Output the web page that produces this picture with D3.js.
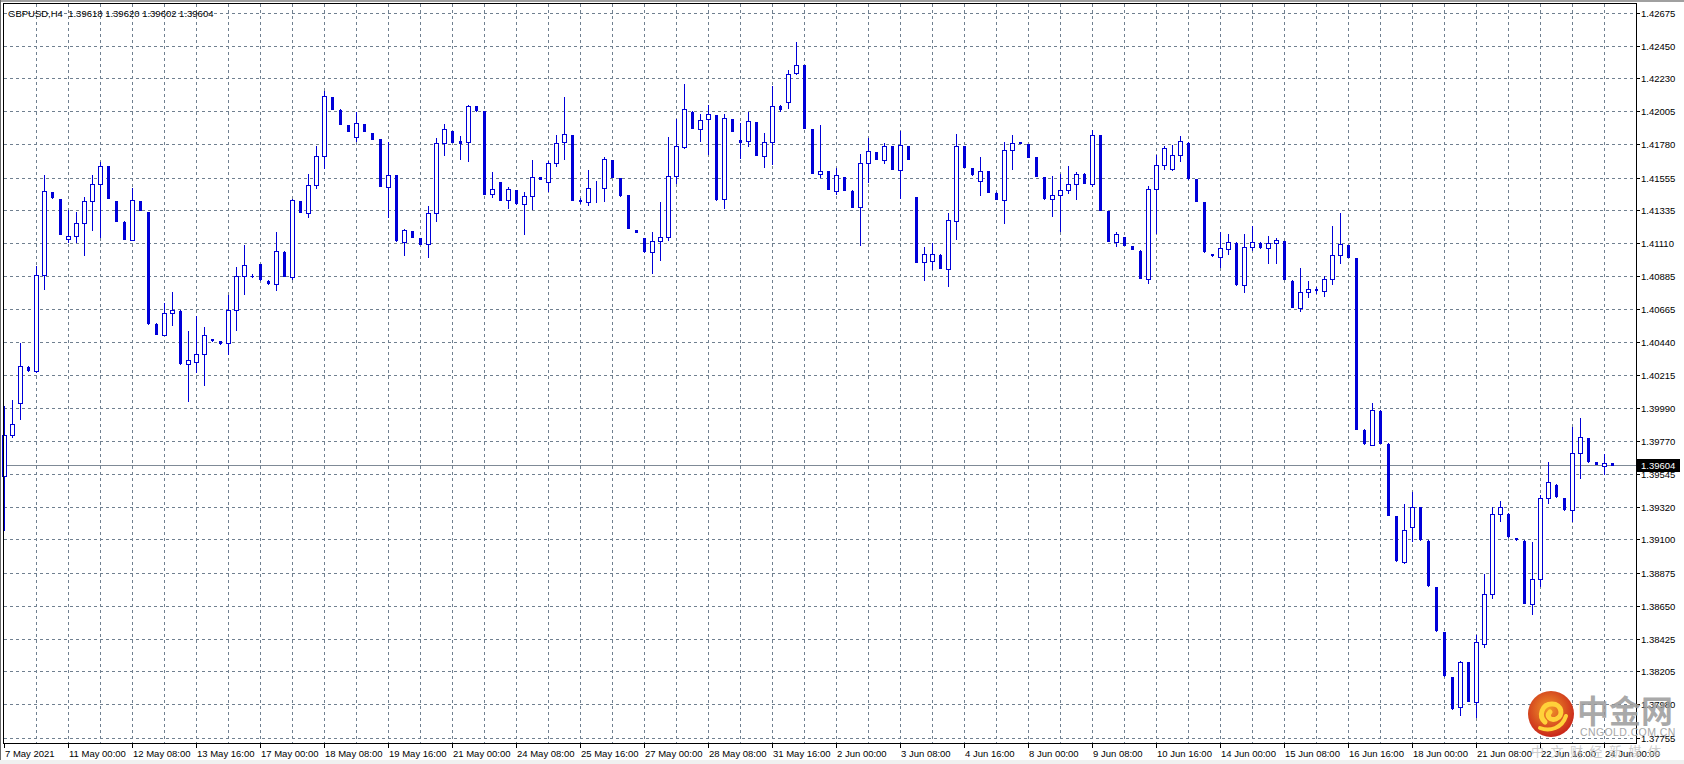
<!DOCTYPE html>
<html><head><meta charset="utf-8">
<script src="https://cdn.jsdelivr.net/npm/d3@7"></script>
<style>html,body{margin:0;padding:0;background:#fff;overflow:hidden}svg{display:block}</style>
</head><body>
<svg id="c" width="1684" height="764"></svg>
<script>
// ---- data (GBPUSD H4, bars from 7 May 2021 16:00) ----
const opens = [1.39528,1.39808,1.40029,1.40271,1.40240,1.40893,1.41456,1.41409,1.41136,1.41159,1.41246,1.41394,1.41510,1.41632,1.41396,1.41255,1.41134,1.41396,1.41320,1.40564,1.40490,1.40635,1.40653,1.40289,1.40307,1.40358,1.40461,1.40445,1.40432,1.40658,1.40886,1.40890,1.40969,1.40855,1.40832,1.41052,1.40884,1.41396,1.41313,1.41503,1.41699,1.42100,1.42017,1.41912,1.41834,1.41919,1.41856,1.41816,1.41494,1.41572,1.41120,1.41192,1.41145,1.41103,1.41313,1.41787,1.41870,1.41803,1.41800,1.42040,1.42006,1.41441,1.41523,1.41400,1.41470,1.41374,1.41432,1.41559,1.41523,1.41657,1.41798,1.41843,1.41405,1.41391,1.41483,1.41483,1.41675,1.41552,1.41436,1.41199,1.41145,1.41050,1.41122,1.41149,1.41563,1.41764,1.42002,1.41888,1.41950,1.41979,1.41407,1.41953,1.41809,1.41807,1.41932,1.41704,1.41800,1.42044,1.42071,1.42268,1.42317,1.41883,1.41583,1.41599,1.41461,1.41559,1.41465,1.41353,1.41657,1.41729,1.41673,1.41769,1.41610,1.41769,1.41423,1.40980,1.40987,1.41032,1.40933,1.41264,1.41769,1.41619,1.41530,1.41599,1.41452,1.41405,1.41740,1.41796,1.41782,1.41695,1.41559,1.41407,1.41434,1.41474,1.41512,1.41583,1.41512,1.41841,1.41329,1.41120,1.41152,1.41092,1.41059,1.40870,1.41476,1.41644,1.41614,1.41706,1.41793,1.41546,1.41389,1.41038,1.41016,1.41070,1.41112,1.40826,1.41085,1.41112,1.41076,1.41110,1.41125,1.40855,1.40673,1.40779,1.40799,1.40785,1.40866,1.41027,1.41097,1.41009,1.39843,1.39743,1.39973,1.39748,1.39257,1.38945,1.39181,1.39318,1.39090,1.38777,1.38471,1.38166,1.37961,1.38265,1.37994,1.38392,1.38728,1.39271,1.39275,1.39110,1.39090,1.38661,1.38831,1.39381,1.39470,1.39381,1.39298,1.39683,1.39788,1.39622,1.39600,1.39618];
const highs = [1.40003,1.40047,1.40432,1.40275,1.40956,1.41576,1.41460,1.41412,1.41336,1.41320,1.41425,1.41576,1.41661,1.41635,1.41399,1.41258,1.41485,1.41399,1.41323,1.40567,1.40707,1.40776,1.40656,1.40517,1.40617,1.40543,1.40463,1.40447,1.40759,1.40951,1.41101,1.40900,1.40972,1.40857,1.41183,1.41055,1.41407,1.41399,1.41579,1.41769,1.42143,1.42103,1.42020,1.41915,1.42000,1.41922,1.41859,1.41819,1.41796,1.41575,1.41206,1.41195,1.41148,1.41362,1.41821,1.41919,1.41873,1.41836,1.42049,1.42043,1.42009,1.41592,1.41526,1.41490,1.41473,1.41459,1.41675,1.41562,1.41670,1.41843,1.42100,1.41846,1.41420,1.41606,1.41532,1.41693,1.41678,1.41555,1.41439,1.41201,1.41148,1.41185,1.41389,1.41832,1.41955,1.42190,1.42005,1.41986,1.42047,1.41982,1.41986,1.41956,1.41926,1.42002,1.41935,1.41856,1.42176,1.42050,1.42283,1.42478,1.42320,1.41886,1.41910,1.41602,1.41619,1.41562,1.41468,1.41715,1.41825,1.41732,1.41787,1.41772,1.41872,1.41772,1.41426,1.41085,1.41110,1.41035,1.41315,1.41850,1.41772,1.41622,1.41695,1.41602,1.41455,1.41796,1.41843,1.41800,1.41785,1.41698,1.41562,1.41566,1.41583,1.41632,1.41594,1.41586,1.41881,1.41844,1.41332,1.41185,1.41155,1.41094,1.41062,1.41497,1.41711,1.41771,1.41778,1.41836,1.41796,1.41549,1.41392,1.41040,1.41185,1.41170,1.41115,1.41170,1.41228,1.41115,1.41159,1.41145,1.41128,1.40858,1.40942,1.40855,1.40810,1.40888,1.41226,1.41315,1.41100,1.41012,1.39846,1.40027,1.39976,1.39751,1.39260,1.39341,1.39419,1.39321,1.39093,1.38780,1.38474,1.38169,1.38278,1.38268,1.38449,1.38866,1.39318,1.39363,1.39278,1.39112,1.39093,1.39079,1.39403,1.39627,1.39473,1.39384,1.39864,1.39926,1.39791,1.39625,1.39678,1.39620];
const lows = [1.39166,1.39794,1.39919,1.40244,1.40233,1.40799,1.41418,1.41170,1.41116,1.41118,1.41027,1.41199,1.41154,1.41415,1.41258,1.41138,1.41129,1.41333,1.40563,1.40491,1.40485,1.40557,1.40291,1.40041,1.40233,1.40150,1.40448,1.40428,1.40358,1.40521,1.40767,1.40878,1.40863,1.40835,1.40790,1.40885,1.40870,1.41319,1.41291,1.41488,1.41623,1.42019,1.41918,1.41869,1.41805,1.41869,1.41815,1.41498,1.41291,1.41128,1.41027,1.41151,1.41103,1.41014,1.41264,1.41711,1.41795,1.41684,1.41670,1.42010,1.41444,1.41425,1.41402,1.41351,1.41377,1.41174,1.41345,1.41545,1.41465,1.41634,1.41684,1.41402,1.41385,1.41369,1.41391,1.41398,1.41558,1.41433,1.41211,1.41186,1.41051,1.40907,1.40996,1.41134,1.41521,1.41758,1.41891,1.41803,1.41717,1.41406,1.41351,1.41869,1.41690,1.41771,1.41708,1.41628,1.41648,1.42010,1.42029,1.42255,1.41891,1.41585,1.41561,1.41478,1.41447,1.41471,1.41355,1.41099,1.41526,1.41681,1.41655,1.41611,1.41414,1.41681,1.40982,1.40857,1.40936,1.40941,1.40817,1.41141,1.41625,1.41576,1.41438,1.41456,1.41409,1.41248,1.41612,1.41789,1.41692,1.41563,1.41413,1.41295,1.41195,1.41454,1.41409,1.41518,1.41499,1.41335,1.41124,1.41088,1.41098,1.41072,1.40874,1.40837,1.41181,1.41612,1.41610,1.41670,1.41549,1.41395,1.41051,1.41025,1.40947,1.41038,1.40827,1.40776,1.41061,1.41078,1.40978,1.40978,1.40867,1.40677,1.40651,1.40747,1.40770,1.40754,1.40834,1.40978,1.41015,1.39849,1.39749,1.39739,1.39754,1.39266,1.38955,1.38942,1.39090,1.39098,1.38785,1.38479,1.38174,1.37951,1.37909,1.38000,1.37898,1.38370,1.38701,1.39228,1.39118,1.39099,1.38667,1.38594,1.38784,1.39345,1.39389,1.39301,1.39228,1.39519,1.39626,1.39612,1.39546,1.39602];
const closes = [1.39810,1.39884,1.40278,1.40247,1.40893,1.41463,1.41421,1.41174,1.41156,1.41246,1.41394,1.41510,1.41637,1.41418,1.41261,1.41141,1.41400,1.41336,1.40566,1.40494,1.40635,1.40658,1.40294,1.40316,1.40358,1.40485,1.40450,1.40430,1.40658,1.40886,1.40960,1.40886,1.40866,1.40837,1.41056,1.40888,1.41400,1.41322,1.41503,1.41699,1.42107,1.42022,1.41921,1.41872,1.41923,1.41872,1.41818,1.41501,1.41570,1.41131,1.41203,1.41154,1.41106,1.41313,1.41787,1.41888,1.41798,1.41791,1.42040,1.42013,1.41447,1.41476,1.41405,1.41476,1.41380,1.41432,1.41561,1.41548,1.41657,1.41793,1.41848,1.41405,1.41395,1.41483,1.41485,1.41679,1.41561,1.41436,1.41214,1.41188,1.41054,1.41122,1.41149,1.41563,1.41767,1.42024,1.41894,1.41946,1.41984,1.41409,1.41957,1.41872,1.41798,1.41937,1.41711,1.41800,1.42044,1.42020,1.42261,1.42321,1.41894,1.41588,1.41603,1.41481,1.41570,1.41474,1.41358,1.41657,1.41733,1.41684,1.41773,1.41614,1.41776,1.41684,1.40985,1.41036,1.41036,1.40944,1.41266,1.41773,1.41628,1.41579,1.41603,1.41459,1.41412,1.41740,1.41793,1.41791,1.41695,1.41566,1.41416,1.41434,1.41470,1.41510,1.41583,1.41521,1.41841,1.41338,1.41127,1.41170,1.41101,1.41074,1.40877,1.41479,1.41644,1.41754,1.41706,1.41807,1.41552,1.41398,1.41054,1.41027,1.41076,1.41116,1.40830,1.41085,1.41116,1.41081,1.41110,1.41129,1.40870,1.40680,1.40779,1.40799,1.40790,1.40866,1.41027,1.41103,1.41018,1.39852,1.39752,1.39975,1.39757,1.39269,1.38958,1.39164,1.39323,1.39101,1.38788,1.38482,1.38177,1.37954,1.38269,1.38003,1.38404,1.38728,1.39271,1.39323,1.39121,1.39101,1.38670,1.38831,1.39379,1.39488,1.39392,1.39304,1.39683,1.39792,1.39629,1.39614,1.39618,1.39604];
const priceTicks = [1.42675,1.42450,1.42230,1.42005,1.41780,1.41555,1.41335,1.41110,1.40885,1.40665,1.40440,1.40215,1.39990,1.39770,1.39545,1.39320,1.39100,1.38875,1.38650,1.38425,1.38205,1.37980,1.37755];
const timeLabels = ["7 May 2021","11 May 00:00","12 May 08:00","13 May 16:00","17 May 00:00","18 May 08:00","19 May 16:00","21 May 00:00","24 May 08:00","25 May 16:00","27 May 00:00","28 May 08:00","31 May 16:00","2 Jun 00:00","3 Jun 08:00","4 Jun 16:00","8 Jun 00:00","9 Jun 08:00","10 Jun 16:00","14 Jun 00:00","15 Jun 08:00","16 Jun 16:00","18 Jun 00:00","21 Jun 08:00","22 Jun 16:00","24 Jun 00:00"];
const symbolText = "GBPUSD,H4";
const lastBar = [1.39618,1.39620,1.39602,1.39604];
const lastPrice = 1.39604;

// ---- layout ----
const W = 1684, H = 764;
const plotL = 3, plotT = 3, plotR = 1636, plotB = 743;
const barsPerLabel = 8, barsPerGrid = 4;
const BLUE = "#0000d8", GRID = "#708090";
const FONT = "'Liberation Sans', Arial, sans-serif";

const svg = d3.select("#c");
svg.append("rect").attr("width", W).attr("height", H).attr("fill", "#fff");

const n = opens.length;
const x = d3.scaleLinear().domain([0, 200]).range([4.3, 1604.3]);
const y = d3.scaleLinear().domain([1.37755, 1.42675]).range([737.6, 12.6]);
const px = v => Math.round(x(v));
const py = v => Math.round(y(v));

const g = svg.append("g").attr("shape-rendering", "crispEdges");

// grid
g.selectAll("line.hg").data(priceTicks).join("line")
  .attr("x1", plotL + 1).attr("x2", plotR)
  .attr("y1", d => py(d) + 0.5).attr("y2", d => py(d) + 0.5)
  .attr("stroke", GRID).attr("stroke-dasharray", "3,3");
const vIdx = d3.range(barsPerGrid, n, barsPerGrid);
g.selectAll("line.vg").data(vIdx).join("line")
  .attr("x1", d => px(d) + 0.5).attr("x2", d => px(d) + 0.5)
  .attr("y1", plotT + 1).attr("y2", plotB)
  .attr("stroke", GRID).attr("stroke-dasharray", "3,3");

// price line
g.append("line").attr("x1", plotL).attr("x2", plotR)
  .attr("y1", py(lastPrice) + 0.5).attr("y2", py(lastPrice) + 0.5)
  .attr("stroke", "#7f8a96");

// candles
const bars = d3.range(n).map(i => ({i, o: opens[i], h: highs[i], l: lows[i], c: closes[i]}));
const cg = g.append("g");
cg.selectAll("line.w").data(bars).join("line")
  .attr("x1", d => px(d.i) + 0.5).attr("x2", d => px(d.i) + 0.5)
  .attr("y1", d => py(d.h)).attr("y2", d => py(d.l) + 1)
  .attr("stroke", BLUE);
cg.selectAll("rect.up").data(bars.filter(d => d.c >= d.o)).join("rect")
  .attr("x", d => px(d.i) - 2 + 0.5).attr("width", 4)
  .attr("y", d => py(d.c) + 0.5)
  .attr("height", d => Math.max(0, py(d.o) - py(d.c)))
  .attr("fill", "#fff").attr("stroke", BLUE);
cg.selectAll("rect.dn").data(bars.filter(d => d.c < d.o)).join("rect")
  .attr("x", d => px(d.i) - 1).attr("width", 3)
  .attr("y", d => py(d.o))
  .attr("height", d => Math.max(1, py(d.c) - py(d.o) + 1))
  .attr("fill", BLUE);

// frame
g.append("rect").attr("x", plotL + 0.5).attr("y", plotT + 0.5)
  .attr("width", plotR - plotL).attr("height", plotB - plotT)
  .attr("fill", "none").attr("stroke", "#000");

// right axis
g.selectAll("line.rt").data(priceTicks).join("line")
  .attr("x1", plotR + 1).attr("x2", plotR + 4)
  .attr("y1", d => py(d) + 0.5).attr("y2", d => py(d) + 0.5)
  .attr("stroke", "#000");
svg.selectAll("text.rl").data(priceTicks).join("text")
  .attr("x", plotR + 5).attr("y", d => py(d) + 4)
  .attr("font-family", FONT).attr("font-size", "9.5px").attr("fill", "#000")
  .text(d => d.toFixed(5));

// bottom axis
const tl = timeLabels.map((t, j) => ({t, i: j * barsPerLabel}));
g.selectAll("line.bt").data(tl).join("line")
  .attr("x1", d => px(d.i) + 0.5).attr("x2", d => px(d.i) + 0.5)
  .attr("y1", plotB + 1).attr("y2", plotB + 5)
  .attr("stroke", "#000");
svg.selectAll("text.bl").data(tl).join("text")
  .attr("x", d => px(d.i) + 1).attr("y", 756.5)
  .attr("font-family", FONT).attr("font-size", "9.5px").attr("fill", "#000")
  .text(d => d.t);

// current price label
const lp = py(lastPrice);
g.append("rect").attr("x", plotR + 1).attr("y", lp - 6).attr("width", 43).attr("height", 13).attr("fill", "#000");
svg.append("text").attr("x", plotR + 5).attr("y", lp + 4)
  .attr("font-family", FONT).attr("font-size", "9.5px").attr("fill", "#fff")
  .text(lastPrice.toFixed(5));

// header
svg.append("text").attr("x", 8).attr("y", 16.5)
  .attr("font-family", FONT).attr("font-size", "9.5px").attr("fill", "#000")
  .attr("xml:space", "preserve")
  .text(symbolText + "  " + lastBar.map(v => v.toFixed(5)).join(" "));

// window edges
g.append("rect").attr("x", 0).attr("y", 0).attr("width", W).attr("height", 2).attr("fill", "#a0a0a0");
g.append("rect").attr("x", 0).attr("y", 0).attr("width", 1).attr("height", H).attr("fill", "#696969");
g.append("rect").attr("x", 0).attr("y", 760).attr("width", W).attr("height", 4).attr("fill", "#f0f0f0");

// watermark
const wm = svg.append("g");
const defs = svg.append("defs");
const rg = defs.append("radialGradient").attr("id", "lg").attr("cx", "45%").attr("cy", "40%").attr("r", "60%");
rg.append("stop").attr("offset", "0%").attr("stop-color", "#f29a2a");
rg.append("stop").attr("offset", "100%").attr("stop-color", "#c9261a");
wm.append("circle").attr("cx", 1551).attr("cy", 714).attr("r", 23).attr("fill", "url(#lg)");
wm.append("path").attr("d", "M1545,722 C1538,716 1542,704 1552,704 C1562,704 1564,716 1556,719 C1550,721 1546,716 1550,712")
  .attr("fill", "none").attr("stroke", "#ffd23a").attr("stroke-width", 5).attr("stroke-linecap", "round");
wm.append("path").attr("d", "M1540,728 C1550,732 1562,728 1566,716")
  .attr("fill", "none").attr("stroke", "#ffd23a").attr("stroke-width", 4).attr("stroke-linecap", "round");
wm.append("text").attr("x", 1577).attr("y", 723)
  .attr("font-family", "'Noto Sans CJK SC'").attr("font-weight", "bold").attr("font-size", "32px")
  .attr("fill", "#9a9a9a").attr("fill-opacity", 0.85).text("中金网");
wm.append("text").attr("x", 1580).attr("y", 736)
  .attr("font-family", FONT).attr("font-size", "10.5px").attr("letter-spacing", "0.4px")
  .attr("fill", "#a8a8a8").text("CNGOLD.COM.CN");
wm.append("text").attr("x", 1531).attr("y", 756)
  .attr("font-family", "'Noto Sans CJK SC'").attr("font-size", "13px").attr("letter-spacing", "6.5px")
  .attr("fill", "#c4c4c4").attr("fill-opacity", 0.85).text("中文财经新媒体");
</script>
</body></html>
